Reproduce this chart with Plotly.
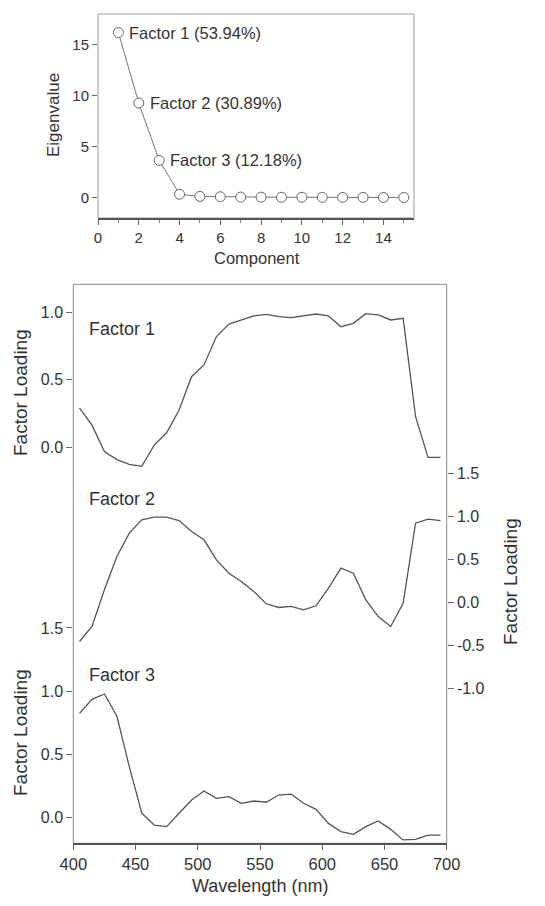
import plotly.graph_objects as go

# ---------------- data ----------------
components = list(range(1, 16))
eigenvalues = [16.18, 9.27, 3.65, 0.33, 0.12, 0.08, 0.05, 0.04, 0.03, 0.03, 0.02, 0.02, 0.02, 0.01, 0.01]
factor_labels = ["Factor 1 (53.94%)", "Factor 2 (30.89%)", "Factor 3 (12.18%)"]

wavelength = list(range(405, 700, 10))
factor1 = [0.29, 0.165, -0.03, -0.09, -0.126, -0.14, 0.017, 0.108, 0.276, 0.523,
           0.61, 0.82, 0.913, 0.943, 0.973, 0.985, 0.968, 0.96, 0.975, 0.987,
           0.973, 0.893, 0.918, 0.99, 0.98, 0.943, 0.955, 0.227, -0.074, -0.074]
factor2 = [-0.453, -0.279, 0.148, 0.535, 0.807, 0.962, 0.993, 0.993, 0.953, 0.826,
           0.729, 0.496, 0.341, 0.244, 0.128, -0.015, -0.058, -0.046, -0.085, -0.038,
           0.167, 0.40, 0.341, 0.031, -0.163, -0.279, -0.008, 0.923, 0.97, 0.953]
factor3 = [0.825, 0.936, 0.978, 0.804, 0.403, 0.035, -0.058, -0.071, 0.035, 0.14,
           0.211, 0.153, 0.166, 0.114, 0.132, 0.122, 0.179, 0.187, 0.114, 0.066,
           -0.045, -0.11, -0.131, -0.071, -0.026, -0.092, -0.176, -0.171, -0.137, -0.137]

scree_ticks = [0, 5, 10, 15]
comp_ticks = list(range(0, 15, 2))
wl_ticks = list(range(400, 701, 50))
f1_ticks = [0.0, 0.5, 1.0]
f2_ticks = [-1.0, -0.5, 0.0, 0.5, 1.0, 1.5]
f3_ticks = [0.0, 0.5, 1.0, 1.5]

# page offset (default body margin) compensation
OFF = 8
W, H = 545 - 2 * OFF, 906 - 2 * OFF
FONT = "Liberation Sans, Arial, sans-serif"
LINE = "#555555"
TXT = "#333333"


def px(x):
    return (x - OFF) / W


def py(y):
    return 1 - (y - OFF) / H


def lbl(v):
    return f"{v:.1f}"


fig = go.Figure()

# scree plot
fig.add_trace(go.Scatter(
    x=components, y=eigenvalues, mode="lines+markers",
    line=dict(color="#777777", width=1),
    marker=dict(symbol="circle", size=10, color="white", line=dict(color="#666666", width=1)),
    xaxis="x", yaxis="y", showlegend=False))

# factor loadings
fig.add_trace(go.Scatter(x=wavelength, y=factor1, mode="lines", line=dict(color=LINE, width=1.3),
                         xaxis="x2", yaxis="y2", showlegend=False))
fig.add_trace(go.Scatter(x=wavelength, y=factor2, mode="lines", line=dict(color=LINE, width=1.3),
                         xaxis="x2", yaxis="y3", showlegend=False))
fig.add_trace(go.Scatter(x=wavelength, y=factor3, mode="lines", line=dict(color=LINE, width=1.3),
                         xaxis="x2", yaxis="y4", showlegend=False))

top_dom_x = [px(98), px(414)]
top_dom_y = [py(218), py(14)]
bot_dom_x = [px(73.3), px(446.7)]
bot_dom_y = [py(843.3), py(284.3)]

tickfont_top = dict(family=FONT, size=15, color=TXT)
tickfont_bot = dict(family=FONT, size=16, color=TXT)

fig.update_layout(
    width=W, height=H,
    margin=dict(l=0, r=0, t=0, b=0, autoexpand=False),
    paper_bgcolor="white", plot_bgcolor="white",
    font=dict(family=FONT, color=TXT),
    xaxis=dict(domain=top_dom_x, anchor="y", range=[0, 15.5], tickvals=comp_ticks, automargin=False,
               ticks="outside", ticklen=5, tickcolor="#666666", tickfont=tickfont_top,
               minor=dict(dtick=1, tick0=0, ticks="outside", ticklen=3, tickcolor="#888888"),
               showgrid=False, zeroline=False, showline=True, linecolor="#555555", linewidth=1.5),
    yaxis=dict(domain=top_dom_y, anchor="x", range=[-2, 18], tickvals=scree_ticks, automargin=False,
               ticks="outside", ticklen=5, tickcolor="#666666", tickfont=tickfont_top,
               showgrid=False, zeroline=False, showline=False),
    xaxis2=dict(domain=bot_dom_x, anchor="y2", range=[400, 700], tickvals=wl_ticks, automargin=False,
                ticks="outside", ticklen=5, tickcolor="#666666", tickfont=dict(family=FONT, size=16.5, color=TXT),
                ticklabelstandoff=0,
                showgrid=False, zeroline=False, showline=True, linecolor="#555555", linewidth=1.5),
    yaxis2=dict(domain=bot_dom_y, anchor="x2", range=[-2.93, 1.207], automargin=False,
                tickvals=f1_ticks, ticktext=[lbl(v) for v in f1_ticks],
                ticks="outside", ticklen=6, tickcolor="#666666", tickfont=tickfont_bot,
                showgrid=False, zeroline=False, showline=False),
    yaxis3=dict(overlaying="y2", anchor="x2", side="right", range=[-2.80, 3.70], automargin=False,
                tickvals=f2_ticks, ticktext=[lbl(v) for v in f2_ticks],
                ticks="outside", ticklen=6, tickcolor="#666666", tickfont=tickfont_bot,
                showgrid=False, zeroline=False, showline=False),
    yaxis4=dict(overlaying="y2", anchor="x2", side="left", range=[-0.2024, 4.217], automargin=False,
                tickvals=f3_ticks, ticktext=[lbl(v) for v in f3_ticks],
                ticks="outside", ticklen=6, tickcolor="#666666", tickfont=tickfont_bot,
                showgrid=False, zeroline=False, showline=False),
)

# frames
fig.add_shape(type="rect", xref="paper", yref="paper",
              x0=top_dom_x[0], x1=top_dom_x[1], y0=top_dom_y[0], y1=top_dom_y[1],
              line=dict(color="#9a9a9a", width=1), layer="below")
fig.add_shape(type="rect", xref="paper", yref="paper",
              x0=bot_dom_x[0], x1=bot_dom_x[1], y0=bot_dom_y[0], y1=bot_dom_y[1],
              line=dict(color="#888888", width=1), layer="below")

# scree annotations
for i, lab in enumerate(factor_labels):
    fig.add_annotation(x=components[i], y=eigenvalues[i], xref="x", yref="y", text=lab,
                       showarrow=False, xanchor="left", yanchor="middle", xshift=9,
                       font=dict(family=FONT, size=16.5, color=TXT))

# axis titles as annotations
fig.add_annotation(x=px(53), y=py(115), xref="paper", yref="paper", text="Eigenvalue",
                   showarrow=False, textangle=-90, xanchor="center", yanchor="middle",
                   font=dict(family=FONT, size=17, color=TXT))
fig.add_annotation(x=px(257), y=py(258), xref="paper", yref="paper", text="Component",
                   showarrow=False, xanchor="center", yanchor="middle",
                   font=dict(family=FONT, size=16.5, color=TXT))
fig.add_annotation(x=px(260), y=0, xref="paper", yref="paper", text="Wavelength (nm)",
                   showarrow=False, xanchor="center", yanchor="bottom",
                   font=dict(family=FONT, size=18, color=TXT))

# factor names
for name, yy in [("Factor 1", 329), ("Factor 2", 499), ("Factor 3", 675)]:
    fig.add_annotation(x=px(87), y=py(yy), xref="paper", yref="paper", text=name,
                       showarrow=False, xanchor="left", yanchor="middle",
                       font=dict(family=FONT, size=18, color=TXT))

# Factor Loading titles
for xx, yy in [(20, 393), (20, 733), (510, 582)]:
    fig.add_annotation(x=px(xx), y=py(yy), xref="paper", yref="paper", text="Factor Loading",
                       showarrow=False, textangle=-90, xanchor="center", yanchor="middle",
                       font=dict(family=FONT, size=19, color=TXT))

fig.write_html("out.html")
